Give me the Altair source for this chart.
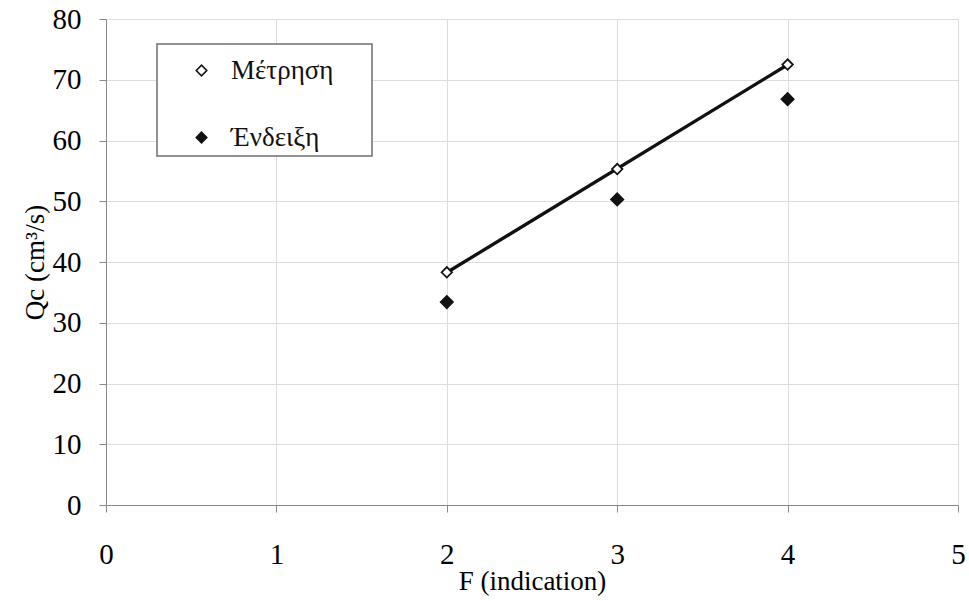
import altair as alt
import pandas as pd

# Flow rate Qc against the F indication
f_values = [2, 3, 4]
measured = [38.3, 55.3, 72.5]   # Μέτρηση
indicated = [33.4, 50.3, 66.8]  # Ένδειξη
series_names = ["Μέτρηση", "Ένδειξη"]

x_ticks = [0, 1, 2, 3, 4, 5]
y_ticks = [0, 10, 20, 30, 40, 50, 60, 70, 80]

rows = []
for name, vals in zip(series_names, [measured, indicated]):
    for f, q in zip(f_values, vals):
        rows.append({"F": f, "Q": q, "series": name})
df = pd.DataFrame(rows)

FONT = "'Liberation Serif', 'Times New Roman', Tinos, 'DejaVu Serif', serif"
W, H = 852, 486

x_enc = alt.X(
    "F:Q",
    scale=alt.Scale(domain=[0, 5], nice=False),
    axis=alt.Axis(
        values=x_ticks, title="F (indication)", format="d",
        labelFont=FONT, titleFont=FONT, labelFlush=False,
        labelFontSize=29, labelPadding=28, tickSize=7,
        titleFontSize=27, titleFontWeight="normal",
        titleBaseline="alphabetic", titleY=84,
    ),
)
y_enc = alt.Y(
    "Q:Q",
    scale=alt.Scale(domain=[0, 80], nice=False),
    axis=alt.Axis(
        values=y_ticks, title="Qc (cm³/s)",
        labelFont=FONT, titleFont=FONT, labelFlush=False,
        labelFontSize=29, labelPadding=18, tickSize=7,
        titleFontSize=27, titleFontWeight="normal",
        titleAngle=-90, titleBaseline="alphabetic",
        titleX=-63, titleY=H / 2, titleAlign="center",
    ),
)

fill_enc = alt.Fill(
    "series:N",
    scale=alt.Scale(domain=series_names, range=["white", "#111111"]),
    legend=alt.Legend(
        title=None, orient="none", legendX=82, legendY=38,
        padding=0, labelFont=FONT, labelFontSize=27, labelColor="#111111",
        symbolSize=110, symbolStrokeColor="#111111", symbolStrokeWidth=1.6,
        symbolType="diamond", labelOffset=16, rowPadding=39,
    ),
)

# Linear trend through the measured points
trend = (
    alt.Chart(df)
    .transform_filter(alt.datum.series == "Μέτρηση")
    .transform_regression("F", "Q", extent=[2, 4])
    .mark_line(color="#111111", strokeWidth=3.3)
    .encode(x=x_enc, y=y_enc)
)

# Open diamonds for the measurement, solid ones for the indication
measured_pts = (
    alt.Chart(df)
    .transform_filter(alt.datum.series == "Μέτρηση")
    .mark_point(shape="diamond", filled=True, size=110, stroke="#111111", strokeWidth=1.8, opacity=1)
    .encode(x=x_enc, y=y_enc, fill=fill_enc)
)
indicated_pts = (
    alt.Chart(df)
    .transform_filter(alt.datum.series == "Ένδειξη")
    .mark_point(shape="diamond", filled=True, size=170, stroke="#111111", strokeWidth=1.2, opacity=1)
    .encode(x=x_enc, y=y_enc, fill=fill_enc)
)

# Framed box behind the legend entries
legend_box = (
    alt.Chart(pd.DataFrame({"k": [0]}))
    .mark_rect(fill="white", stroke="#6f6f6f", strokeWidth=1.5)
    .encode(x=alt.value(51), x2=alt.value(266), y=alt.value(25), y2=alt.value(137))
)

chart = (
    alt.layer(legend_box, trend, measured_pts, indicated_pts)
    .properties(width=W, height=H, padding={"left": 106, "top": 19, "right": 11, "bottom": 96},
                autosize=alt.AutoSizeParams(type="none"))
    .configure_view(stroke="#8f9a95", strokeWidth=1.5)
    .configure_axis(
        labelColor="#111111", titleColor="#111111",
        grid=True, gridColor="#9ea8a3", gridWidth=1.3,
        domainColor="#3d4a45", domainWidth=2, tickColor="#3d4a45", tickWidth=1.5,
    )
    .configure(background="white", font=FONT)
)

chart.save("out.html", embed_options={"renderer": "svg", "actions": False})
